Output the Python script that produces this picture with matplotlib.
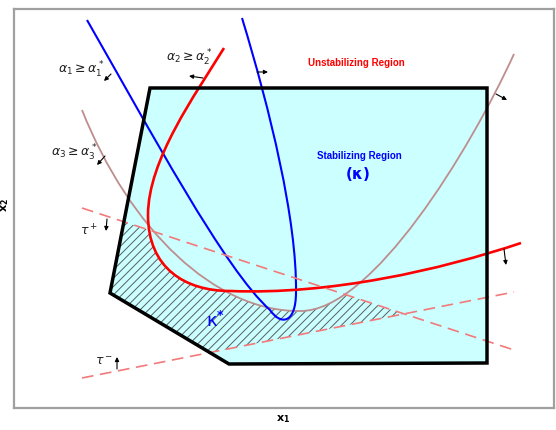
import numpy as np
import matplotlib.pyplot as plt
from matplotlib.path import Path
from matplotlib.patches import PathPatch, Polygon

plt.rcParams['font.family'] = ['Liberation Sans', 'DejaVu Sans']
plt.rcParams['mathtext.fontset'] = 'dejavusans'
plt.rcParams['hatch.linewidth'] = 0.7

# ---------- dados do diagrama (coordenadas do plano x1, x2) ----------
# vertices da regiao estabilizante
regiao_x = [150, 487, 487, 229, 110]
regiao_y = [88, 88, 363, 364, 293]

# curvas de restricao (pontos de controle de Bezier cubicas)
alfa1_x = [87, 150, 225, 270, 280, 296, 296, 297, 270, 242]
alfa1_y = [20, 130, 270, 310, 325, 325, 292, 220, 110, 18]

alfa2_x = [224, 195, 148, 148, 148, 185, 230, 330, 440, 521]
alfa2_y = [48, 95, 160, 215, 268, 291, 291, 295, 270, 243]

alfa3_x = [82, 130, 215, 300, 372, 470, 514]
alfa3_y = [110, 230, 312, 311, 312, 150, 54]

# retas tau+ e tau-
tau_mais_x = [82, 514]
tau_mais_y = [208, 350]
tau_menos_x = [82, 514]
tau_menos_y = [378, 292]

# setas indicando o lado admissivel (origem, destino)
setas = [((111, 74), (104, 81)),
         ((203, 78), (189, 76)),
         ((257, 72), (268, 72)),
         ((105, 156), (97, 165)),
         ((496, 94), (507, 100)),
         ((504, 249), (506, 265)),
         ((107, 219), (106, 231)),
         ((117, 369), (117, 357))]

AZUL = '#0000ff'
VERMELHO = '#ff0000'
MARROM = '#be8e8e'
TRACEJADO = '#f27a7a'
CIANO = '#ccffff'


def caminho_bezier(xs, ys, fechar=None):
    pts = list(zip(xs, ys))
    codes = [Path.MOVETO] + [Path.CURVE4] * (len(pts) - 1)
    if fechar is not None:
        pts += fechar
        codes += [Path.LINETO] * len(fechar)
    return Path(pts, codes)


fig = plt.figure(figsize=(5.56, 4.30), dpi=100)
ax = fig.add_axes([14 / 556, 22 / 430, 540 / 556, 399 / 430])
ax.set_xlim(14, 554)
ax.set_ylim(408, 9)
ax.set_xticks([])
ax.set_yticks([])
for s in ax.spines.values():
    s.set_color('#a0a0a0')
    s.set_linewidth(1.6)

# regiao estabilizante
regiao = Polygon(list(zip(regiao_x, regiao_y)), closed=True,
                 facecolor=CIANO, edgecolor='none', zorder=1)
ax.add_patch(regiao)

# faixa entre tau+ e tau- (hachurada)
a1 = (tau_mais_y[1] - tau_mais_y[0]) / (tau_mais_x[1] - tau_mais_x[0])
a2 = (tau_menos_y[1] - tau_menos_y[0]) / (tau_menos_x[1] - tau_menos_x[0])
xc = tau_mais_x[0] + (tau_menos_y[0] - tau_mais_y[0]) / (a1 - a2)
yc = tau_mais_y[0] + a1 * (xc - tau_mais_x[0])
faixa = Polygon([(tau_mais_x[0], tau_mais_y[0]), (xc, yc),
                 (tau_menos_x[0], tau_menos_y[0])], closed=True,
                facecolor='none', edgecolor='#556060', hatch='////',
                linewidth=0, zorder=2)
ax.add_patch(faixa)
faixa.set_clip_path(regiao)

# remove a hachura acima das curvas alfa2 e alfa3
for xs, ys in [(alfa2_x, alfa2_y), (alfa3_x, alfa3_y)]:
    tampa = PathPatch(caminho_bezier(xs, ys, [(xs[-1], 0), (xs[0], 0)]),
                      facecolor=CIANO, edgecolor='none', zorder=3)
    ax.add_patch(tampa)
    tampa.set_clip_path(regiao)

# curvas
ax.add_patch(PathPatch(caminho_bezier(alfa3_x, alfa3_y), facecolor='none',
                       edgecolor=MARROM, lw=1.3, zorder=4))
ax.add_patch(PathPatch(caminho_bezier(alfa1_x, alfa1_y), facecolor='none',
                       edgecolor=AZUL, lw=1.5, zorder=4))
ax.add_patch(PathPatch(caminho_bezier(alfa2_x, alfa2_y), facecolor='none',
                       edgecolor=VERMELHO, lw=1.9, zorder=4))
ax.plot(tau_mais_x, tau_mais_y, color=TRACEJADO, lw=1.2, dashes=(7, 4), zorder=4)
ax.plot(tau_menos_x, tau_menos_y, color=TRACEJADO, lw=1.2, dashes=(7, 4), zorder=4)

# contorno da regiao
ax.add_patch(Polygon(list(zip(regiao_x, regiao_y)), closed=True,
                     facecolor='none', edgecolor='black', lw=2.5,
                     joinstyle='miter', zorder=5))

for orig, dest in setas:
    ax.annotate('', xy=dest, xytext=orig,
                arrowprops=dict(arrowstyle='-|>', color='black', lw=0.8,
                                mutation_scale=6, shrinkA=0, shrinkB=0),
                zorder=6)

# textos
cinza = '#222222'
ax.text(81, 70, r'$\alpha_1 \geq \alpha_1^*$', fontsize=9, color=cinza,
        ha='center', va='center')
ax.text(189, 58, r'$\alpha_2 \geq \alpha_2^*$', fontsize=9, color=cinza,
        ha='center', va='center')
ax.text(74, 153, r'$\alpha_3 \geq \alpha_3^*$', fontsize=9, color=cinza,
        ha='center', va='center')
ax.text(89, 231, r'$\tau^+$', fontsize=9, color=cinza, ha='center', va='center')
ax.text(104, 362, r'$\tau^-$', fontsize=9, color=cinza, ha='center', va='center')
ax.text(356, 63, 'Unstabilizing Region', fontsize=7, color=VERMELHO,
        fontweight='bold', ha='center', va='center')
ax.text(359, 156, 'Stabilizing Region', fontsize=7, color=AZUL,
        fontweight='bold', ha='center', va='center')
ax.text(358, 174, r'$\mathbf{(\kappa)}$', fontsize=11, color=AZUL,
        ha='center', va='center')
ax.text(216, 321, r'$\mathrm{\kappa}^{\mathbf{*}}$', fontsize=13, color=AZUL,
        ha='center', va='center', zorder=6)
ax.text(283, 419, r'$\mathbf{x_1}$', fontsize=8, color='black',
        ha='center', va='center', clip_on=False)
ax.text(5, 205, r'$\mathbf{x_2}$', fontsize=8, color='black', rotation=90,
        ha='center', va='center', clip_on=False)

fig.savefig('out.png', dpi=100)
